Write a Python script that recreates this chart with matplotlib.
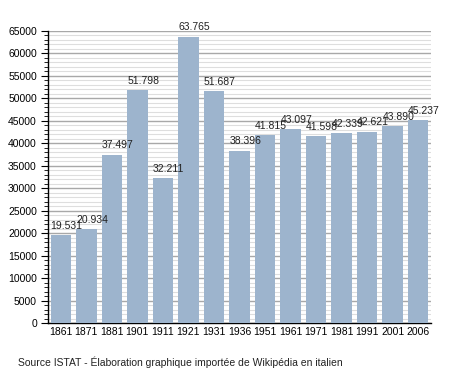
import matplotlib
matplotlib.use("Agg")
import matplotlib.pyplot as plt
from matplotlib.ticker import MultipleLocator

years = ["1861", "1871", "1881", "1901", "1911", "1921", "1931", "1936",
         "1951", "1961", "1971", "1981", "1991", "2001", "2006"]
population = [19531, 20934, 37497, 51798, 32211, 63765, 51687, 38396,
              41815, 43097, 41598, 42339, 42621, 43890, 45237]
labels = ["19.531", "20.934", "37.497", "51.798", "32.211", "63.765", "51.687",
          "38.396", "41.815", "43.097", "41.598", "42.339", "42.621", "43.890", "45.237"]

plt.rcParams['font.family'] = ['Liberation Sans', 'DejaVu Sans']

fig = plt.figure(figsize=(4.58, 3.73), dpi=100)
ax = fig.add_axes([48/458, 50/373, 383/458, 292/373])

x = list(range(len(years)))
bar_w = 0.8
ax.bar(x, population, width=bar_w, color='#9db4cd', zorder=3)

for xi, v, lab in zip(x, population, labels):
    ax.annotate(lab, (xi - bar_w/2, v), xytext=(0, 3), textcoords='offset points',
                ha='left', va='bottom', fontsize=7.5, color='#222222', zorder=4)

ax.set_xlim(-0.5, len(years) - 0.5)
ax.set_ylim(0, 65000)
ax.yaxis.set_major_locator(MultipleLocator(5000))
ax.yaxis.set_minor_locator(MultipleLocator(1000))
ax.grid(which='major', axis='y', color='#a8a8a8', linewidth=1.0, zorder=0)
ax.grid(which='minor', axis='y', color='#dedede', linewidth=0.8, zorder=0)
ax.set_xticks(x)
ax.set_xticklabels(years)
ax.tick_params(axis='x', length=0, pad=3, labelsize=7.5)
ax.tick_params(axis='y', which='major', length=5, width=0.8, pad=3, labelsize=7.5)
ax.tick_params(axis='y', which='minor', length=3, width=0.6)
for s in ['top', 'right']:
    ax.spines[s].set_visible(False)
ax.spines['left'].set_linewidth(1.0)
ax.spines['bottom'].set_linewidth(1.0)

fig.text(18/458, 1 - 362/373, "Source ISTAT - Élaboration graphique importée de Wikipédia en italien",
         fontsize=7.5, va='center', ha='left', color='#222222')

fig.savefig("out.png", dpi=100)
